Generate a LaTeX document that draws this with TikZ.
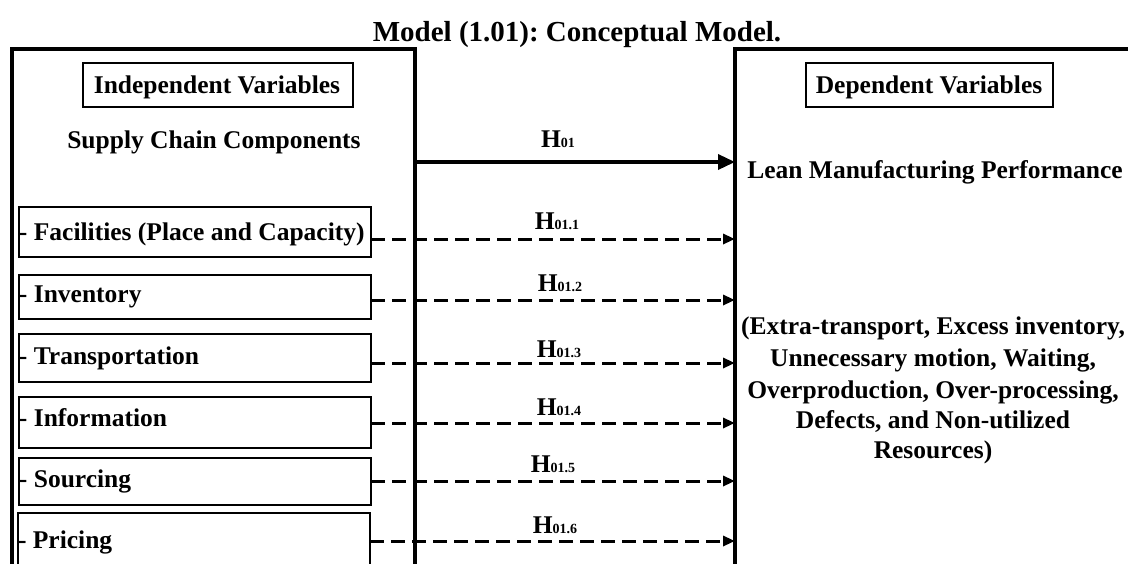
\documentclass[tikz,border=0pt]{standalone}
\usepackage{fontspec}
\setmainfont{Liberation Serif}
\usetikzlibrary{arrows.meta}
\frenchspacing
% hypothesis label: H with a small index set on the baseline
\newcommand{\hyplabel}[1]{H{\fontsize{14}{14}\selectfont #1}}
\begin{document}
\begin{tikzpicture}[x=1pt,y=-1pt,
  every node/.style={font=\bfseries\fontsize{25.5}{31}\selectfont, inner sep=0pt, outer sep=0pt},
  bigbox/.style={draw, line width=3.5pt, anchor=north west},
  hdrbox/.style={draw, line width=2pt},
  itembox/.style={draw, line width=1.8pt, anchor=north west, minimum width=352pt},
  lbl/.style={anchor=base},
  itemtext/.style={anchor=base west},
  solidarrow/.style={line width=3.5pt, -{Triangle[length=17pt,width=15pt]}},
  dasharrow/.style={line width=3pt, dash pattern=on 14pt off 7pt, -{Triangle[length=12pt,width=10pt]}}
]
\useasboundingbox (0,0) rectangle (1128,563);
\clip (0,0) rectangle (1128,563);

% title
\node[lbl, font=\bfseries\fontsize{29}{34}\selectfont] (title) at (577,41) {Model (1.01): Conceptual Model.};

% the two outer panels (open towards the bottom / right)
\node[bigbox, minimum width=403pt, minimum height=600pt] (lbox) at (12,49) {};
\node[bigbox, minimum width=500pt, minimum height=600pt] (rbox) at (735,49) {};

% panel headers
\node[hdrbox, minimum width=270pt, minimum height=44pt] (ivbox) at (218,85) {};
\node[lbl] (ivtext) at (217,93) {Independent Variables};
\node[hdrbox, minimum width=247pt, minimum height=44pt] (dvbox) at (929.5,85) {};
\node[lbl] (dvtext) at (929,93) {Dependent Variables};

\node[lbl] (scc) at (214,148) {Supply Chain Components};
\node[lbl] (lmp) at (935,178) {Lean Manufacturing Performance};

% supply chain components
\node[itembox, minimum height=50pt] (fac) at (19,207) {};
\node[itemtext] (factx) at (19,240) {- Facilities (Place and Capacity)};
\node[itembox, minimum height=44pt] (inv) at (19,275) {};
\node[itemtext] (invtx) at (19,302) {- Inventory};
\node[itembox, minimum height=48pt] (tra) at (19,334) {};
\node[itemtext] (tratx) at (19,364) {- Transportation};
\node[itembox, minimum height=51pt] (inf) at (19,397) {};
\node[itemtext] (inftx) at (19,426) {- Information};
\node[itembox, minimum height=47pt] (sou) at (19,458) {};
\node[itemtext] (soutx) at (19,487) {- Sourcing};
\node[itembox, minimum height=70pt] (pri) at (18,513) {};
\node[itemtext] (pritx) at (18,548) {- Pricing};

% lean wastes
\node[lbl] (dep1) at (933,334) {(Extra-transport, Excess inventory,};
\node[lbl] (dep2) at (933,366) {Unnecessary motion, Waiting,};
\node[lbl] (dep3) at (933,398) {Overproduction, Over-processing,};
\node[lbl] (dep4) at (933,428) {Defects, and Non-utilized};
\node[lbl] (dep5) at (933,458) {Resources)};

% arrow rows
\coordinate (a0) at (0,162);
\coordinate (a1) at (0,239);
\coordinate (a2) at (0,300);
\coordinate (a3) at (0,363);
\coordinate (a4) at (0,423);
\coordinate (a5) at (0,481);
\coordinate (a6) at (0,541);

\draw[solidarrow] (lbox.east |- a0) -- (rbox.west |- a0);
\draw[dasharrow] (fac.east |- a1) -- (rbox.west |- a1);
\draw[dasharrow] (inv.east |- a2) -- (rbox.west |- a2);
\draw[dasharrow] (tra.east |- a3) -- (rbox.west |- a3);
\draw[dasharrow] (inf.east |- a4) -- (rbox.west |- a4);
\draw[dasharrow] (sou.east |- a5) -- (rbox.west |- a5);
\draw[dasharrow] (pri.east |- a6) -- (rbox.west |- a6);

% hypotheses
\node[lbl] (h0) at (558,147) {\hyplabel{01}};
\node[lbl] (h1) at (557,229) {\hyplabel{01.1}};
\node[lbl] (h2) at (560,291) {\hyplabel{01.2}};
\node[lbl] (h3) at (559,357) {\hyplabel{01.3}};
\node[lbl] (h4) at (559,415) {\hyplabel{01.4}};
\node[lbl] (h5) at (553,472) {\hyplabel{01.5}};
\node[lbl] (h6) at (555,533) {\hyplabel{01.6}};
\end{tikzpicture}
\end{document}
